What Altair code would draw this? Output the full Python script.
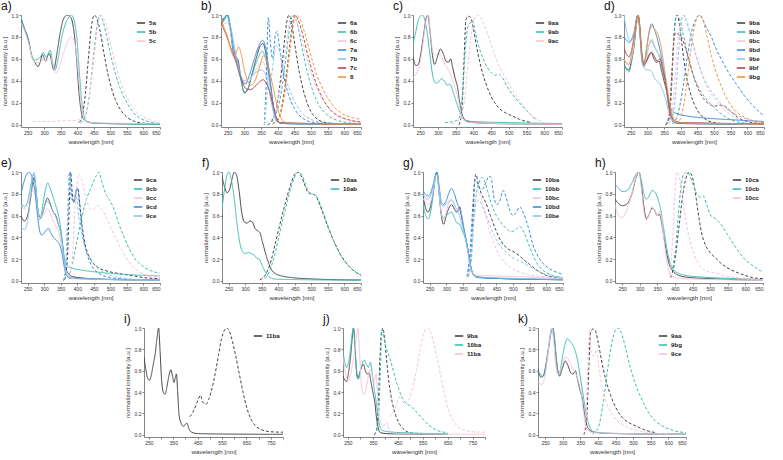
import altair as alt
import pandas as pd

GRAY = "#464646"; TEAL = "#3dbdb8"; PINK = "#f7c4db"; BLUE = "#3a8ee4"
LBLUE = "#8ac7f1"; RED = "#b3474c"; ORANGE = "#ef963f"
FONT = "Liberation Sans"

# ---------------- panel a ----------------
A_5A_ABS = [(230,0.96),(240,0.88),(253,0.77),(263,0.62),(272,0.57),(281,0.53),(288,0.57),(295,0.64),(304,0.58),(311,0.63),(316,0.65),(322,0.58),(329,0.5),(338,0.64),(348,0.83),(358,0.96),(370,1.0),(380,0.98),(390,0.85),(398,0.6),(405,0.3),(412,0.12),(420,0.05),(435,0.025),(460,0.015),(520,0.01),(650,0.005)]
A_5B_ABS = [(230,0.98),(240,0.88),(253,0.76),(263,0.63),(272,0.59),(282,0.6),(291,0.63),(297,0.66),(305,0.62),(312,0.65),(318,0.68),(325,0.58),(333,0.5),(342,0.6),(352,0.78),(362,0.9),(372,0.97),(382,1.0),(392,0.93),(400,0.75),(407,0.45),(414,0.2),(422,0.06),(435,0.02),(470,0.012),(650,0.005)]
A_5C_ABS = [(230,0.93),(242,0.84),(255,0.72),(265,0.6),(275,0.57),(288,0.57),(297,0.6),(306,0.58),(318,0.61),(326,0.55),(335,0.47),(345,0.52),(358,0.65),(370,0.75),(382,0.8),(392,0.75),(400,0.58),(408,0.3),(415,0.12),(423,0.04),(440,0.02),(650,0.01)]
A_5A_EM = [(405,0.02),(415,0.08),(425,0.3),(435,0.65),(443,0.9),(452,1.0),(460,0.96),(470,0.84),(480,0.66),(490,0.5),(500,0.37),(515,0.23),(530,0.14),(550,0.07),(570,0.035),(600,0.015),(650,0.008)]
A_5B_EM = [(410,0.02),(425,0.08),(438,0.3),(450,0.65),(460,0.9),(468,1.0),(476,0.96),(487,0.83),(500,0.65),(515,0.47),(530,0.33),(550,0.2),(570,0.11),(590,0.06),(620,0.025),(650,0.012)]
A_5C_EM = [(265,0.03),(300,0.03),(350,0.035),(395,0.04),(410,0.05),(425,0.1),(440,0.35),(452,0.65),(462,0.9),(470,1.0),(480,0.97),(492,0.85),(505,0.68),(520,0.5),(535,0.36),(555,0.22),(575,0.13),(600,0.07),(630,0.035),(650,0.025)]

# ---------------- panel b ----------------
B_6A_ABS = [(230,0.92),(240,0.97),(250,1.0),(258,0.88),(266,0.68),(272,0.62),(280,0.6),(290,0.42),(300,0.29),(310,0.32),(322,0.45),(335,0.6),(348,0.72),(356,0.74),(364,0.66),(372,0.5),(380,0.32),(388,0.15),(396,0.05),(410,0.015),(450,0.008),(650,0.004)]
B_6B_ABS = [(230,0.9),(240,0.96),(248,1.0),(256,0.9),(266,0.7),(276,0.6),(288,0.43),(300,0.3),(312,0.34),(325,0.47),(340,0.6),(354,0.67),(364,0.6),(374,0.45),(384,0.22),(394,0.07),(405,0.02),(450,0.01),(650,0.005)]
B_6C_ABS = [(230,0.88),(240,0.92),(250,0.93),(260,0.82),(272,0.62),(285,0.48),(300,0.38),(315,0.4),(330,0.48),(345,0.55),(356,0.57),(366,0.5),(376,0.35),(386,0.17),(396,0.05),(410,0.02),(650,0.008)]
B_7A_ABS = [(230,0.94),(240,0.98),(250,1.0),(258,0.9),(268,0.7),(280,0.55),(292,0.42),(302,0.37),(315,0.45),(330,0.6),(345,0.73),(355,0.77),(364,0.7),(373,0.52),(382,0.3),(390,0.12),(398,0.04),(410,0.015),(650,0.005)]
B_7B_ABS = [(230,0.9),(240,0.95),(250,0.98),(260,0.88),(272,0.68),(285,0.5),(300,0.4),(315,0.42),(332,0.47),(350,0.5),(360,0.48),(370,0.38),(380,0.22),(390,0.08),(400,0.02),(650,0.005)]
B_7C_ABS = [(230,0.93),(240,0.86),(250,0.78),(262,0.68),(275,0.57),(290,0.42),(305,0.33),(318,0.32),(332,0.35),(345,0.39),(356,0.41),(366,0.38),(376,0.3),(386,0.18),(396,0.07),(406,0.02),(650,0.005)]
B_8_ABS = [(230,0.96),(240,0.88),(250,0.8),(260,0.68),(268,0.62),(276,0.66),(283,0.71),(290,0.65),(300,0.5),(310,0.4),(320,0.36),(332,0.4),(345,0.52),(358,0.63),(366,0.6),(376,0.48),(388,0.32),(400,0.15),(410,0.06),(420,0.025),(450,0.012),(650,0.005)]
B_6A_EM = [(370,0.0),(385,0.05),(398,0.18),(410,0.45),(420,0.75),(428,0.95),(434,1.0),(442,0.92),(452,0.72),(465,0.48),(480,0.28),(500,0.12),(520,0.05),(545,0.02),(580,0.01)]
B_6B_EM = [(370,0.0),(390,0.06),(410,0.28),(425,0.62),(437,0.9),(446,1.0),(456,0.95),(470,0.75),(485,0.53),(500,0.36),(520,0.2),(545,0.1),(575,0.045),(610,0.02),(650,0.01)]
B_6C_EM = [(365,0.02),(385,0.06),(405,0.28),(420,0.6),(432,0.88),(442,1.0),(455,0.95),(470,0.8),(488,0.6),(505,0.43),(525,0.28),(550,0.16),(580,0.08),(615,0.04),(650,0.025)]
B_7A_EM = [(360,0.0),(366,0.4),(372,0.98),(378,0.75),(385,0.6),(392,0.8),(398,0.85),(406,0.7),(416,0.48),(430,0.3),(450,0.15),(475,0.06),(510,0.02),(560,0.01)]
B_7B_EM = [(360,0.0),(366,0.2),(372,0.45),(378,0.38),(386,0.55),(394,0.72),(402,0.7),(412,0.58),(425,0.42),(445,0.25),(470,0.12),(500,0.05),(540,0.02),(600,0.01)]
B_7C_EM = [(385,0.01),(405,0.08),(422,0.35),(436,0.72),(446,0.95),(452,1.0),(462,0.95),(477,0.8),(495,0.58),(515,0.38),(535,0.24),(560,0.13),(590,0.07),(620,0.04),(650,0.025)]
B_8_EM = [(385,0.01),(405,0.06),(422,0.3),(437,0.68),(448,0.93),(455,1.0),(466,0.97),(480,0.85),(498,0.65),(518,0.45),(540,0.3),(565,0.18),(595,0.1),(625,0.065),(650,0.05)]

# ---------------- panel c ----------------
C_9AA_ABS = [(230,0.62),(238,0.54),(245,0.55),(252,0.65),(260,0.82),(267,0.97),(272,1.0),(278,0.85),(285,0.63),(291,0.55),(299,0.62),(307,0.69),(315,0.65),(323,0.58),(330,0.57),(336,0.6),(342,0.52),(349,0.42),(355,0.35),(361,0.22),(367,0.11),(375,0.05),(390,0.025),(450,0.012),(650,0.005)]
C_9AB_ABS = [(230,0.72),(238,0.85),(246,0.96),(256,1.0),(263,0.96),(270,0.84),(277,0.66),(286,0.44),(294,0.38),(302,0.39),(310,0.42),(318,0.4),(326,0.36),(334,0.37),(342,0.31),(350,0.23),(358,0.15),(366,0.09),(376,0.045),(400,0.03),(500,0.02),(650,0.012)]
C_9AC_ABS = [(230,0.43),(240,0.47),(250,0.56),(258,0.74),(266,0.93),(273,1.0),(279,0.82),(286,0.66),(294,0.63),(302,0.66),(310,0.62),(320,0.55),(330,0.5),(340,0.42),(350,0.32),(358,0.22),(365,0.11),(372,0.045),(390,0.02),(650,0.005)]
C_9AA_EM = [(360,0.0),(368,0.15),(374,0.6),(379,0.95),(385,0.99),(392,0.98),(400,0.88),(410,0.7),(422,0.52),(435,0.38),(450,0.26),(470,0.16),(490,0.11),(510,0.08),(530,0.05),(550,0.03),(565,0.02)]
C_9AB_EM = [(320,0.02),(345,0.03),(360,0.06),(370,0.3),(378,0.7),(384,0.88),(392,0.93),(398,0.95),(405,0.85),(415,0.72),(428,0.6),(440,0.52),(452,0.47),(462,0.45),(472,0.46),(482,0.43),(495,0.35),(510,0.28),(530,0.2),(550,0.13),(565,0.08),(580,0.04)]
C_9AC_EM = [(340,0.01),(360,0.04),(372,0.15),(382,0.45),(392,0.78),(402,0.95),(410,1.0),(420,0.98),(432,0.9),(445,0.78),(460,0.64),(475,0.52),(490,0.43),(505,0.35),(520,0.27),(540,0.18),(560,0.1),(580,0.05),(600,0.02)]

# ---------------- panel d ----------------
D_9BA_ABS = [(230,0.55),(238,0.51),(245,0.5),(252,0.58),(260,0.72),(267,0.9),(272,1.0),(277,0.88),(283,0.62),(289,0.53),(296,0.57),(304,0.63),(312,0.66),(320,0.6),(327,0.57),(335,0.58),(342,0.5),(350,0.4),(358,0.3),(365,0.15),(372,0.06),(380,0.02),(420,0.01),(650,0.005)]
D_9BB_ABS = [(230,0.55),(238,0.5),(245,0.48),(252,0.56),(260,0.72),(267,0.92),(272,1.0),(277,0.88),(283,0.62),(289,0.55),(297,0.62),(305,0.72),(312,0.77),(320,0.72),(330,0.66),(340,0.6),(350,0.45),(358,0.33),(366,0.18),(374,0.08),(384,0.03),(420,0.015),(650,0.008)]
D_9BC_ABS = [(230,0.6),(238,0.56),(245,0.55),(255,0.65),(265,0.88),(272,0.98),(278,0.85),(284,0.6),(290,0.52),(298,0.62),(306,0.74),(313,0.78),(322,0.72),(332,0.65),(342,0.55),(352,0.43),(362,0.25),(370,0.1),(380,0.04),(400,0.02),(650,0.008)]
D_9BD_ABS = [(230,0.8),(238,0.77),(245,0.75),(253,0.78),(262,0.87),(268,0.97),(272,1.0),(277,0.92),(283,0.68),(290,0.56),(298,0.7),(306,0.86),(313,0.92),(322,0.86),(332,0.76),(342,0.62),(352,0.45),(360,0.3),(367,0.18),(375,0.13),(390,0.1),(420,0.08),(480,0.06),(560,0.045),(650,0.03)]
D_9BE_ABS = [(230,1.0),(236,0.88),(242,0.8),(250,0.76),(258,0.8),(266,0.92),(272,0.97),(277,0.85),(283,0.6),(290,0.52),(298,0.5),(306,0.5),(314,0.48),(322,0.42),(330,0.4),(340,0.36),(348,0.3),(356,0.22),(364,0.12),(372,0.05),(385,0.02),(650,0.008)]
D_9BF_ABS = [(230,0.7),(238,0.64),(245,0.62),(253,0.68),(262,0.84),(268,0.97),(272,1.0),(277,0.9),(283,0.65),(290,0.55),(298,0.58),(306,0.63),(313,0.66),(322,0.62),(330,0.58),(338,0.6),(346,0.5),(354,0.4),(362,0.25),(370,0.1),(380,0.04),(400,0.02),(650,0.01)]
D_9BG_ABS = [(230,0.6),(238,0.56),(245,0.55),(253,0.65),(262,0.85),(268,0.97),(272,1.0),(277,0.9),(283,0.65),(290,0.56),(298,0.7),(306,0.84),(313,0.9),(322,0.87),(332,0.82),(342,0.7),(352,0.5),(360,0.33),(368,0.18),(376,0.08),(386,0.03),(420,0.015),(650,0.008)]
D_9BA_EM = [(355,0.0),(365,0.05),(372,0.3),(378,0.7),(384,0.95),(390,1.0),(397,0.9),(405,0.7),(415,0.48),(428,0.3),(442,0.18),(460,0.09),(480,0.04),(510,0.015),(550,0.008)]
D_9BB_EM = [(355,0.0),(366,0.08),(374,0.45),(381,0.85),(388,1.0),(396,0.97),(406,0.85),(420,0.65),(436,0.47),(452,0.35),(470,0.26),(490,0.19),(510,0.13),(535,0.07),(560,0.035),(600,0.015)]
D_9BC_EM = [(360,0.01),(372,0.08),(382,0.38),(392,0.78),(400,0.95),(408,1.0),(418,0.95),(432,0.8),(448,0.62),(465,0.45),(482,0.33),(500,0.24),(520,0.17),(545,0.1),(575,0.05),(610,0.02),(650,0.01)]
D_9BD_EM = [(375,0.01),(390,0.08),(405,0.3),(420,0.62),(433,0.85),(445,0.96),(456,1.0),(466,0.96),(478,0.88),(492,0.8),(508,0.68),(525,0.58),(545,0.47),(565,0.38),(590,0.27),(615,0.18),(635,0.12),(650,0.08)]
D_9BE_EM = [(365,0.01),(378,0.1),(388,0.4),(396,0.75),(403,0.95),(408,1.0),(416,0.95),(428,0.83),(445,0.64),(462,0.48),(480,0.36),(500,0.27),(525,0.18),(555,0.11),(590,0.06),(650,0.02)]
D_9BF_EM = [(355,0.0),(366,0.1),(374,0.5),(380,0.78),(386,0.84),(394,0.82),(402,0.8),(412,0.72),(424,0.6),(438,0.45),(452,0.33),(468,0.24),(485,0.19),(502,0.17),(518,0.18),(532,0.17),(548,0.13),(570,0.07),(600,0.03),(650,0.01)]
D_9BG_EM = [(385,0.01),(400,0.06),(415,0.3),(428,0.62),(440,0.87),(450,0.98),(458,1.0),(466,0.96),(478,0.82),(492,0.63),(506,0.48),(522,0.35),(540,0.23),(560,0.14),(585,0.08),(615,0.04),(650,0.02)]

# ---------------- panel e ----------------
E_9CA_ABS = [(230,0.6),(240,0.55),(250,0.6),(260,0.78),(266,0.92),(270,0.95),(276,0.8),(283,0.62),(290,0.58),(297,0.64),(304,0.72),(310,0.76),(317,0.72),(326,0.64),(335,0.6),(343,0.52),(350,0.45),(356,0.32),(362,0.15),(370,0.08),(385,0.04),(420,0.025),(500,0.012),(650,0.005)]
E_9CB_ABS = [(230,0.72),(240,0.68),(250,0.73),(258,0.85),(265,0.96),(270,0.98),(276,0.82),(283,0.6),(290,0.6),(297,0.72),(304,0.84),(311,0.9),(318,0.85),(326,0.78),(334,0.7),(342,0.62),(350,0.48),(357,0.3),(363,0.18),(370,0.14),(380,0.12),(410,0.1),(460,0.08),(540,0.06),(650,0.045)]
E_9CC_ABS = [(230,0.7),(240,0.66),(250,0.7),(258,0.78),(266,0.83),(272,0.8),(280,0.65),(288,0.6),(296,0.6),(304,0.64),(311,0.66),(318,0.62),(326,0.56),(336,0.5),(346,0.42),(354,0.3),(361,0.16),(368,0.07),(380,0.03),(400,0.02),(650,0.008)]
E_9CD_ABS = [(230,0.8),(238,0.9),(246,0.97),(253,1.0),(260,0.98),(266,0.92),(273,0.8),(280,0.6),(287,0.45),(293,0.42),(300,0.44),(307,0.47),(313,0.48),(320,0.44),(328,0.4),(338,0.37),(347,0.33),(354,0.25),(360,0.14),(366,0.06),(378,0.025),(650,0.008)]
E_9CE_ABS = [(230,0.5),(240,0.47),(250,0.55),(258,0.75),(264,0.92),(269,1.0),(274,0.88),(280,0.66),(287,0.56),(295,0.62),(303,0.7),(310,0.73),(317,0.7),(326,0.64),(336,0.58),(345,0.5),(352,0.4),(358,0.25),(364,0.1),(372,0.04),(390,0.02),(650,0.005)]
E_9CA_EM = [(362,0.01),(370,0.2),(376,0.7),(380,1.0),(385,0.8),(390,0.72),(397,0.82),(402,0.85),(408,0.7),(415,0.5),(425,0.32),(440,0.2),(460,0.13),(490,0.09),(520,0.07),(560,0.05),(600,0.03),(650,0.02)]
E_9CB_EM = [(372,0.02),(385,0.15),(400,0.38),(415,0.6),(430,0.77),(445,0.88),(458,0.97),(465,1.0),(475,0.9),(486,0.8),(500,0.73),(512,0.65),(526,0.52),(542,0.4),(556,0.3),(575,0.2),(600,0.13),(625,0.09),(650,0.07)]
E_9CC_EM = [(375,0.02),(385,0.2),(393,0.65),(400,0.9),(405,0.98),(413,0.93),(425,0.78),(440,0.66),(450,0.66),(460,0.69),(470,0.67),(485,0.6),(500,0.5),(515,0.4),(535,0.28),(555,0.18),(580,0.1),(610,0.05),(650,0.025)]
E_9CD_EM = [(358,0.0),(366,0.15),(372,0.65),(377,1.0),(383,0.78),(390,0.72),(396,0.83),(401,0.85),(408,0.65),(417,0.42),(430,0.24),(445,0.13),(465,0.07),(500,0.03),(550,0.015)]
E_9CE_EM = [(358,0.0),(365,0.12),(371,0.6),(376,0.98),(382,0.75),(390,0.74),(396,0.8),(404,0.6),(414,0.42),(428,0.27),(445,0.17),(468,0.1),(500,0.05),(540,0.025),(600,0.01)]

# ---------------- panel f ----------------
F_10AA_ABS = [(230,0.96),(238,0.86),(245,0.81),(252,0.83),(260,0.93),(267,1.0),(274,0.97),(282,0.82),(290,0.62),(298,0.54),(306,0.53),(314,0.55),(322,0.54),(330,0.48),(338,0.46),(345,0.44),(352,0.36),(360,0.27),(370,0.17),(380,0.1),(392,0.065),(410,0.045),(440,0.03),(500,0.018),(580,0.01),(650,0.008)]
F_10AB_ABS = [(230,0.66),(238,0.85),(245,0.97),(251,1.0),(258,0.93),(266,0.78),(274,0.56),(282,0.38),(290,0.28),(300,0.25),(310,0.26),(318,0.25),(326,0.24),(334,0.21),(342,0.2),(350,0.15),(358,0.1),(366,0.06),(376,0.03),(395,0.015),(650,0.005)]
F_10AA_EM = [(345,0.01),(360,0.05),(375,0.15),(390,0.33),(405,0.52),(420,0.7),(435,0.86),(448,0.97),(458,1.0),(468,0.97),(478,0.9),(488,0.82),(498,0.8),(510,0.79),(520,0.74),(535,0.62),(552,0.48),(570,0.35),(590,0.23),(615,0.13),(650,0.05)]
F_10AB_EM = [(360,0.02),(375,0.1),(390,0.25),(405,0.45),(420,0.64),(435,0.82),(448,0.94),(460,1.0),(470,0.98),(480,0.91),(490,0.83),(500,0.8),(512,0.79),(522,0.74),(537,0.62),(553,0.48),(570,0.35),(590,0.23),(615,0.13),(650,0.05)]

# ---------------- panel g ----------------
G_10BA_ABS = [(230,0.78),(238,0.67),(245,0.63),(252,0.68),(260,0.8),(267,0.95),(272,1.0),(278,0.82),(285,0.6),(292,0.52),(300,0.6),(308,0.67),(316,0.7),(324,0.66),(332,0.63),(340,0.68),(346,0.6),(354,0.45),(362,0.33),(370,0.18),(378,0.08),(390,0.04),(430,0.025),(650,0.01)]
G_10BB_ABS = [(230,0.72),(238,0.6),(245,0.57),(252,0.62),(260,0.78),(267,0.95),(272,1.0),(278,0.82),(285,0.62),(292,0.58),(300,0.6),(308,0.62),(316,0.63),(324,0.58),(332,0.53),(340,0.52),(348,0.46),(356,0.4),(364,0.3),(372,0.15),(380,0.06),(395,0.03),(650,0.01)]
G_10BC_ABS = [(230,0.76),(238,0.72),(245,0.7),(252,0.72),(260,0.82),(267,0.95),(272,0.98),(278,0.82),(285,0.62),(292,0.56),(300,0.64),(308,0.72),(316,0.75),(324,0.7),(332,0.65),(340,0.66),(346,0.6),(354,0.45),(362,0.32),(370,0.16),(380,0.07),(395,0.05),(450,0.045),(550,0.035),(650,0.02)]
G_10BD_ABS = [(230,0.83),(238,0.79),(245,0.78),(252,0.8),(260,0.88),(267,0.97),(272,1.0),(278,0.88),(285,0.72),(292,0.7),(300,0.74),(308,0.81),(316,0.85),(324,0.8),(332,0.72),(340,0.66),(348,0.55),(356,0.43),(364,0.3),(372,0.15),(380,0.06),(395,0.03),(650,0.01)]
G_10BE_ABS = [(230,0.8),(238,0.76),(245,0.75),(252,0.78),(260,0.86),(267,0.96),(272,0.98),(278,0.86),(285,0.72),(292,0.68),(300,0.71),(308,0.73),(316,0.74),(324,0.7),(332,0.65),(340,0.6),(348,0.5),(356,0.4),(364,0.28),(372,0.14),(380,0.06),(395,0.035),(650,0.015)]
G_10BA_EM = [(365,0.04),(374,0.2),(380,0.6),(385,0.92),(389,0.98),(395,0.9),(405,0.8),(418,0.72),(432,0.6),(448,0.47),(465,0.36),(482,0.3),(500,0.27),(515,0.24),(530,0.2),(550,0.15),(575,0.09),(600,0.05),(650,0.02)]
G_10BB_EM = [(365,0.08),(375,0.3),(383,0.62),(390,0.8),(398,0.9),(406,0.95),(414,0.92),(424,0.82),(436,0.7),(450,0.6),(465,0.53),(480,0.48),(494,0.45),(508,0.47),(520,0.5),(532,0.45),(548,0.33),(565,0.2),(585,0.11),(610,0.06),(650,0.03)]
G_10BC_EM = [(365,0.03),(375,0.2),(383,0.6),(390,0.78),(398,0.8),(406,0.75),(416,0.62),(428,0.48),(442,0.35),(458,0.24),(475,0.17),(495,0.12),(520,0.08),(560,0.05),(650,0.03)]
G_10BD_EM = [(362,0.04),(372,0.3),(380,0.72),(387,0.93),(393,0.9),(400,0.85),(408,0.84),(418,0.9),(428,0.96),(434,0.95),(442,0.78),(452,0.7),(462,0.75),(470,0.83),(478,0.78),(490,0.65),(500,0.6),(510,0.63),(520,0.68),(532,0.62),(545,0.5),(560,0.33),(580,0.2),(605,0.12),(630,0.08),(650,0.06)]
G_10BE_EM = [(365,0.04),(375,0.2),(383,0.55),(390,0.72),(398,0.74),(408,0.68),(420,0.6),(432,0.5),(446,0.4),(462,0.32),(480,0.26),(500,0.21),(520,0.18),(545,0.14),(575,0.09),(610,0.05),(650,0.03)]

# ---------------- panel h ----------------
H_10CA_ABS = [(230,0.75),(240,0.71),(252,0.69),(265,0.71),(278,0.8),(290,0.95),(298,1.0),(305,0.88),(312,0.68),(319,0.57),(327,0.61),(335,0.67),(342,0.65),(350,0.6),(357,0.61),(363,0.52),(370,0.38),(377,0.25),(384,0.15),(392,0.1),(405,0.06),(430,0.035),(500,0.02),(650,0.005)]
H_10CB_ABS = [(230,0.89),(240,0.85),(252,0.82),(265,0.83),(278,0.9),(290,0.98),(298,1.0),(305,0.92),(312,0.8),(319,0.75),(327,0.78),(335,0.83),(342,0.82),(350,0.77),(358,0.68),(365,0.55),(372,0.4),(379,0.26),(386,0.17),(394,0.11),(410,0.07),(440,0.045),(500,0.03),(580,0.02),(650,0.012)]
H_10CC_ABS = [(230,0.7),(240,0.6),(250,0.58),(262,0.64),(276,0.78),(289,0.95),(298,1.0),(305,0.85),(312,0.64),(319,0.56),(327,0.61),(335,0.68),(342,0.65),(350,0.6),(357,0.64),(363,0.55),(370,0.35),(377,0.18),(384,0.08),(394,0.04),(420,0.02),(650,0.005)]
H_10CA_EM = [(388,0.03),(398,0.15),(410,0.45),(422,0.78),(432,0.95),(440,1.0),(448,0.97),(456,0.85),(465,0.65),(475,0.45),(488,0.32),(500,0.26),(515,0.21),(535,0.15),(560,0.1),(590,0.06),(620,0.03),(650,0.02)]
H_10CB_EM = [(394,0.12),(402,0.3),(410,0.62),(418,0.88),(425,0.98),(432,1.0),(442,0.97),(452,0.88),(462,0.8),(472,0.77),(480,0.78),(490,0.7),(502,0.6),(515,0.57),(530,0.52),(550,0.42),(570,0.32),(595,0.21),(625,0.13),(650,0.08)]
H_10CC_EM = [(385,0.05),(393,0.35),(400,0.8),(405,1.0),(410,0.98),(418,0.85),(428,0.62),(440,0.4),(455,0.24),(470,0.14),(490,0.09),(515,0.07),(550,0.04),(600,0.02),(650,0.01)]

# ---------------- panel i ----------------
I_11BA_ABS = [(230,0.73),(237,0.62),(245,0.53),(252,0.51),(260,0.56),(268,0.66),(276,0.76),(283,0.9),(290,1.0),(296,0.78),(302,0.52),(309,0.4),(316,0.38),(324,0.45),(332,0.55),(340,0.61),(347,0.55),(353,0.49),(358,0.53),(363,0.57),(368,0.4),(374,0.18),(382,0.11),(392,0.08),(400,0.1),(406,0.11),(414,0.06),(425,0.025),(450,0.012),(550,0.008),(800,0.005)]
I_11BA_EM = [(418,0.17),(430,0.21),(442,0.27),(452,0.33),(462,0.37),(470,0.31),(478,0.29),(486,0.29),(495,0.33),(505,0.4),(520,0.55),(535,0.74),(548,0.9),(560,0.98),(570,1.0),(580,0.97),(592,0.88),(606,0.74),(620,0.58),(636,0.4),(652,0.25),(668,0.15),(685,0.09),(705,0.055),(730,0.035),(765,0.027),(800,0.025)]

TICKS_650 = [250, 300, 350, 400, 450, 500, 550, 600, 650]
TICKS_800 = [250, 300, 350, 400, 450, 500, 550, 600, 650, 700, 750, 800]
Y_TICKS = [0.0, 0.2, 0.4, 0.6, 0.8, 1.0]


def panel(label, series, xmax, ticks, w, h):
    rows = []
    names, colors = [], []
    for name, col, ab, em in series:
        names.append(name); colors.append(col)
        for x, y in ab:
            rows.append({"compound": name, "kind": "abs", "wl": x, "val": y})
        for x, y in em:
            rows.append({"compound": name, "kind": "em", "wl": x, "val": y})
    df = pd.DataFrame(rows)
    return alt.Chart(df).mark_line(strokeWidth=1, interpolate="monotone", clip=True).encode(
        x=alt.X("wl:Q", scale=alt.Scale(domain=[230, xmax], nice=False, zero=False),
                axis=alt.Axis(values=ticks, title="wavelength [nm]", format="d")),
        y=alt.Y("val:Q", scale=alt.Scale(domain=[-0.02, 1.0], nice=False, zero=False),
                axis=alt.Axis(values=Y_TICKS, format=".1f", title="normalized intensity [a.u.]")),
        color=alt.Color("compound:N", scale=alt.Scale(domain=names, range=colors),
                        legend=alt.Legend(orient="top-right", offset=3, padding=0, title=None,
                                          symbolType="stroke", symbolSize=70, symbolStrokeWidth=1.6,
                                          labelFontSize=6.2, labelFontWeight="bold", labelFont=FONT,
                                          labelColor="#222", rowPadding=-0.6, labelOffset=3)),
        strokeDash=alt.StrokeDash("kind:N", scale=alt.Scale(domain=["abs", "em"], range=[[1, 0], [3, 2]]), legend=None),
        order=alt.Order("wl:Q"),
    ).properties(width=w, height=h,
                 title=alt.TitleParams(label, anchor="start", fontSize=12, font=FONT,
                                       fontWeight="normal", offset=0, color="#111"))


def res(c):
    return c.resolve_scale(color="independent", strokeDash="independent", x="independent", y="independent")


pa = panel("a)", [("5a", GRAY, A_5A_ABS, A_5A_EM), ("5b", TEAL, A_5B_ABS, A_5B_EM), ("5c", PINK, A_5C_ABS, A_5C_EM)], 650, TICKS_650, 139, 112)
pb = panel("b)", [("6a", GRAY, B_6A_ABS, B_6A_EM), ("6b", TEAL, B_6B_ABS, B_6B_EM), ("6c", PINK, B_6C_ABS, B_6C_EM),
                  ("7a", BLUE, B_7A_ABS, B_7A_EM), ("7b", LBLUE, B_7B_ABS, B_7B_EM), ("7c", RED, B_7C_ABS, B_7C_EM),
                  ("8", ORANGE, B_8_ABS, B_8_EM)], 650, TICKS_650, 140, 112)
pc = panel("c)", [("9aa", GRAY, C_9AA_ABS, C_9AA_EM), ("9ab", TEAL, C_9AB_ABS, C_9AB_EM), ("9ac", PINK, C_9AC_ABS, C_9AC_EM)], 650, TICKS_650, 149, 112)
pd_ = panel("d)", [("9ba", GRAY, D_9BA_ABS, D_9BA_EM), ("9bb", TEAL, D_9BB_ABS, D_9BB_EM), ("9bc", PINK, D_9BC_ABS, D_9BC_EM),
                   ("9bd", BLUE, D_9BD_ABS, D_9BD_EM), ("9be", LBLUE, D_9BE_ABS, D_9BE_EM), ("9bf", RED, D_9BF_ABS, D_9BF_EM),
                   ("9bg", ORANGE, D_9BG_ABS, D_9BG_EM)], 650, TICKS_650, 140, 112)
pe = panel("e)", [("9ca", GRAY, E_9CA_ABS, E_9CA_EM), ("9cb", TEAL, E_9CB_ABS, E_9CB_EM), ("9cc", PINK, E_9CC_ABS, E_9CC_EM),
                  ("9cd", BLUE, E_9CD_ABS, E_9CD_EM), ("9ce", LBLUE, E_9CE_ABS, E_9CE_EM)], 650, TICKS_650, 139, 111)
pf = panel("f)", [("10aa", GRAY, F_10AA_ABS, F_10AA_EM), ("10ab", TEAL, F_10AB_ABS, F_10AB_EM)], 650, TICKS_650, 139, 111)
pg = panel("g)", [("10ba", GRAY, G_10BA_ABS, G_10BA_EM), ("10bb", TEAL, G_10BB_ABS, G_10BB_EM), ("10bc", PINK, G_10BC_ABS, G_10BC_EM),
                  ("10bd", BLUE, G_10BD_ABS, G_10BD_EM), ("10be", LBLUE, G_10BE_ABS, G_10BE_EM)], 650, TICKS_650, 140, 111)
ph = panel("h)", [("10ca", GRAY, H_10CA_ABS, H_10CA_EM), ("10cb", TEAL, H_10CB_ABS, H_10CB_EM), ("10cc", PINK, H_10CC_ABS, H_10CC_EM)], 650, TICKS_650, 148, 111)
pi = panel("i)", [("11ba", GRAY, I_11BA_ABS, I_11BA_EM)], 800, TICKS_800, 139, 109)
pj = panel("j)", [("9ba", GRAY, D_9BA_ABS, D_9BA_EM), ("10ba", TEAL, G_10BA_ABS, G_10BA_EM), ("11ba", PINK, I_11BA_ABS, I_11BA_EM)], 800, TICKS_800, 142, 109)
pk = panel("k)", [("9aa", GRAY, C_9AA_ABS, C_9AA_EM), ("9bg", TEAL, D_9BG_ABS, D_9BG_EM), ("9ce", PINK, E_9CE_ABS, E_9CE_EM)], 650, TICKS_650, 148, 109)

spacer = alt.Chart(pd.DataFrame({"v": [0]})).mark_point(opacity=0).properties(width=103, height=10)

row1 = res(alt.hconcat(pa, res(alt.hconcat(pb, res(alt.hconcat(pc, pd_, spacing=41)), spacing=31)), spacing=40))
row2 = res(alt.hconcat(pe, res(alt.hconcat(pf, res(alt.hconcat(pg, ph, spacing=31)), spacing=41)), spacing=41))
row3 = res(alt.hconcat(spacer, res(alt.hconcat(pi, res(alt.hconcat(pj, pk, spacing=32)), spacing=39)), spacing=0))

chart = res(alt.vconcat(row1, row2, row3, spacing=12)).properties(
    padding={"left": 1, "top": 0, "right": 1, "bottom": 0}, background="white"
).configure_view(stroke=None).configure_axis(
    grid=False, labelFont=FONT, titleFont=FONT, labelFontSize=5, titleFontSize=6.2,
    titleFontWeight="normal", labelColor="#333", titleColor="#333", domainColor="#666",
    tickColor="#666", domainWidth=0.8, tickWidth=0.8, tickSize=2, labelPadding=1, titlePadding=3
).configure_axisY(titlePadding=4)

chart.save("out.html", embed_options={"renderer": "svg", "actions": False})
